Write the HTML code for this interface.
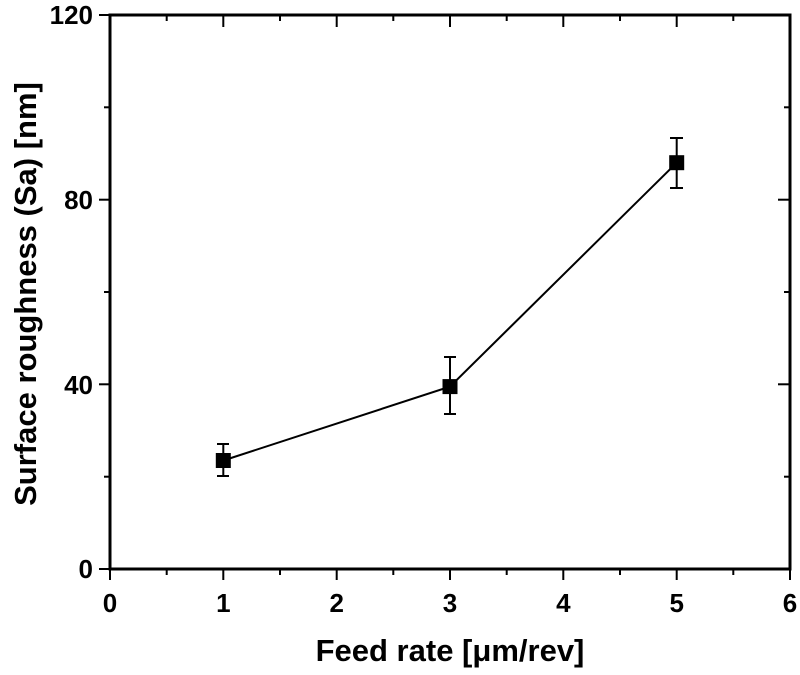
<!DOCTYPE html>
<html><head><style>body{margin:0;background:#fff}</style></head><body>
<svg width="800" height="670" xmlns="http://www.w3.org/2000/svg" font-family="Liberation Sans, sans-serif" font-weight="bold">
<rect width="800" height="670" fill="#fff"/>
<g stroke="#000" stroke-width="3" fill="none">
<rect x="110" y="15" width="680" height="554"/>
</g>
<g stroke="#000" stroke-width="2">
<line x1="110" y1="569" x2="110" y2="580"/><line x1="223.3" y1="569" x2="223.3" y2="580"/><line x1="336.7" y1="569" x2="336.7" y2="580"/><line x1="450" y1="569" x2="450" y2="580"/><line x1="563.3" y1="569" x2="563.3" y2="580"/><line x1="676.7" y1="569" x2="676.7" y2="580"/><line x1="790" y1="569" x2="790" y2="580"/>
<line x1="166.7" y1="569" x2="166.7" y2="575"/><line x1="280" y1="569" x2="280" y2="575"/><line x1="393.3" y1="569" x2="393.3" y2="575"/><line x1="506.7" y1="569" x2="506.7" y2="575"/><line x1="620" y1="569" x2="620" y2="575"/><line x1="733.3" y1="569" x2="733.3" y2="575"/>
<line x1="223.3" y1="15" x2="223.3" y2="27"/><line x1="336.7" y1="15" x2="336.7" y2="27"/><line x1="450" y1="15" x2="450" y2="27"/><line x1="563.3" y1="15" x2="563.3" y2="27"/><line x1="676.7" y1="15" x2="676.7" y2="27"/>
<line x1="166.7" y1="15" x2="166.7" y2="21"/><line x1="280" y1="15" x2="280" y2="21"/><line x1="393.3" y1="15" x2="393.3" y2="21"/><line x1="506.7" y1="15" x2="506.7" y2="21"/><line x1="620" y1="15" x2="620" y2="21"/><line x1="733.3" y1="15" x2="733.3" y2="21"/>
<line x1="99" y1="569" x2="110" y2="569"/><line x1="99" y1="384.3" x2="110" y2="384.3"/><line x1="99" y1="199.7" x2="110" y2="199.7"/><line x1="99" y1="15" x2="110" y2="15"/>
<line x1="104" y1="476.7" x2="110" y2="476.7"/><line x1="104" y1="292" x2="110" y2="292"/><line x1="104" y1="107.3" x2="110" y2="107.3"/>
<line x1="778" y1="384.3" x2="790" y2="384.3"/><line x1="778" y1="199.7" x2="790" y2="199.7"/>
<line x1="784" y1="476.7" x2="790" y2="476.7"/><line x1="784" y1="292" x2="790" y2="292"/><line x1="784" y1="107.3" x2="790" y2="107.3"/>
</g>
<g font-size="26" text-anchor="end">
<text x="93" y="578">0</text><text x="93" y="394">40</text><text x="93" y="209">80</text><text x="93" y="24">120</text>
</g>
<g font-size="26" text-anchor="middle">
<text x="110" y="612">0</text><text x="223.3" y="612">1</text><text x="336.7" y="612">2</text><text x="450" y="612">3</text><text x="563.3" y="612">4</text><text x="676.7" y="612">5</text><text x="790" y="612">6</text>
</g>
<text x="450" y="661" font-size="31" text-anchor="middle">Feed rate [μm/rev]</text>
<text transform="translate(36,294) rotate(-90)" font-size="31" text-anchor="middle">Surface roughness (Sa) [nm]</text>
<g stroke="#000" stroke-width="2">
<polyline points="223.3,460.5 450,386.6 676.7,162.7" fill="none"/>
<line x1="223.3" y1="476" x2="223.3" y2="444"/><line x1="217" y1="476" x2="229" y2="476"/><line x1="217" y1="444" x2="229" y2="444"/>
<line x1="450" y1="414" x2="450" y2="357"/><line x1="444" y1="414" x2="456" y2="414"/><line x1="444" y1="357" x2="456" y2="357"/>
<line x1="676.7" y1="188" x2="676.7" y2="138"/><line x1="670" y1="188" x2="683" y2="188"/><line x1="670" y1="138" x2="683" y2="138"/>
</g>
<g fill="#000">
<rect x="215.8" y="453" width="15" height="15"/>
<rect x="442.5" y="379.1" width="15" height="15"/>
<rect x="669.2" y="155.2" width="15" height="15"/>
</g>
</svg>
</body></html>
